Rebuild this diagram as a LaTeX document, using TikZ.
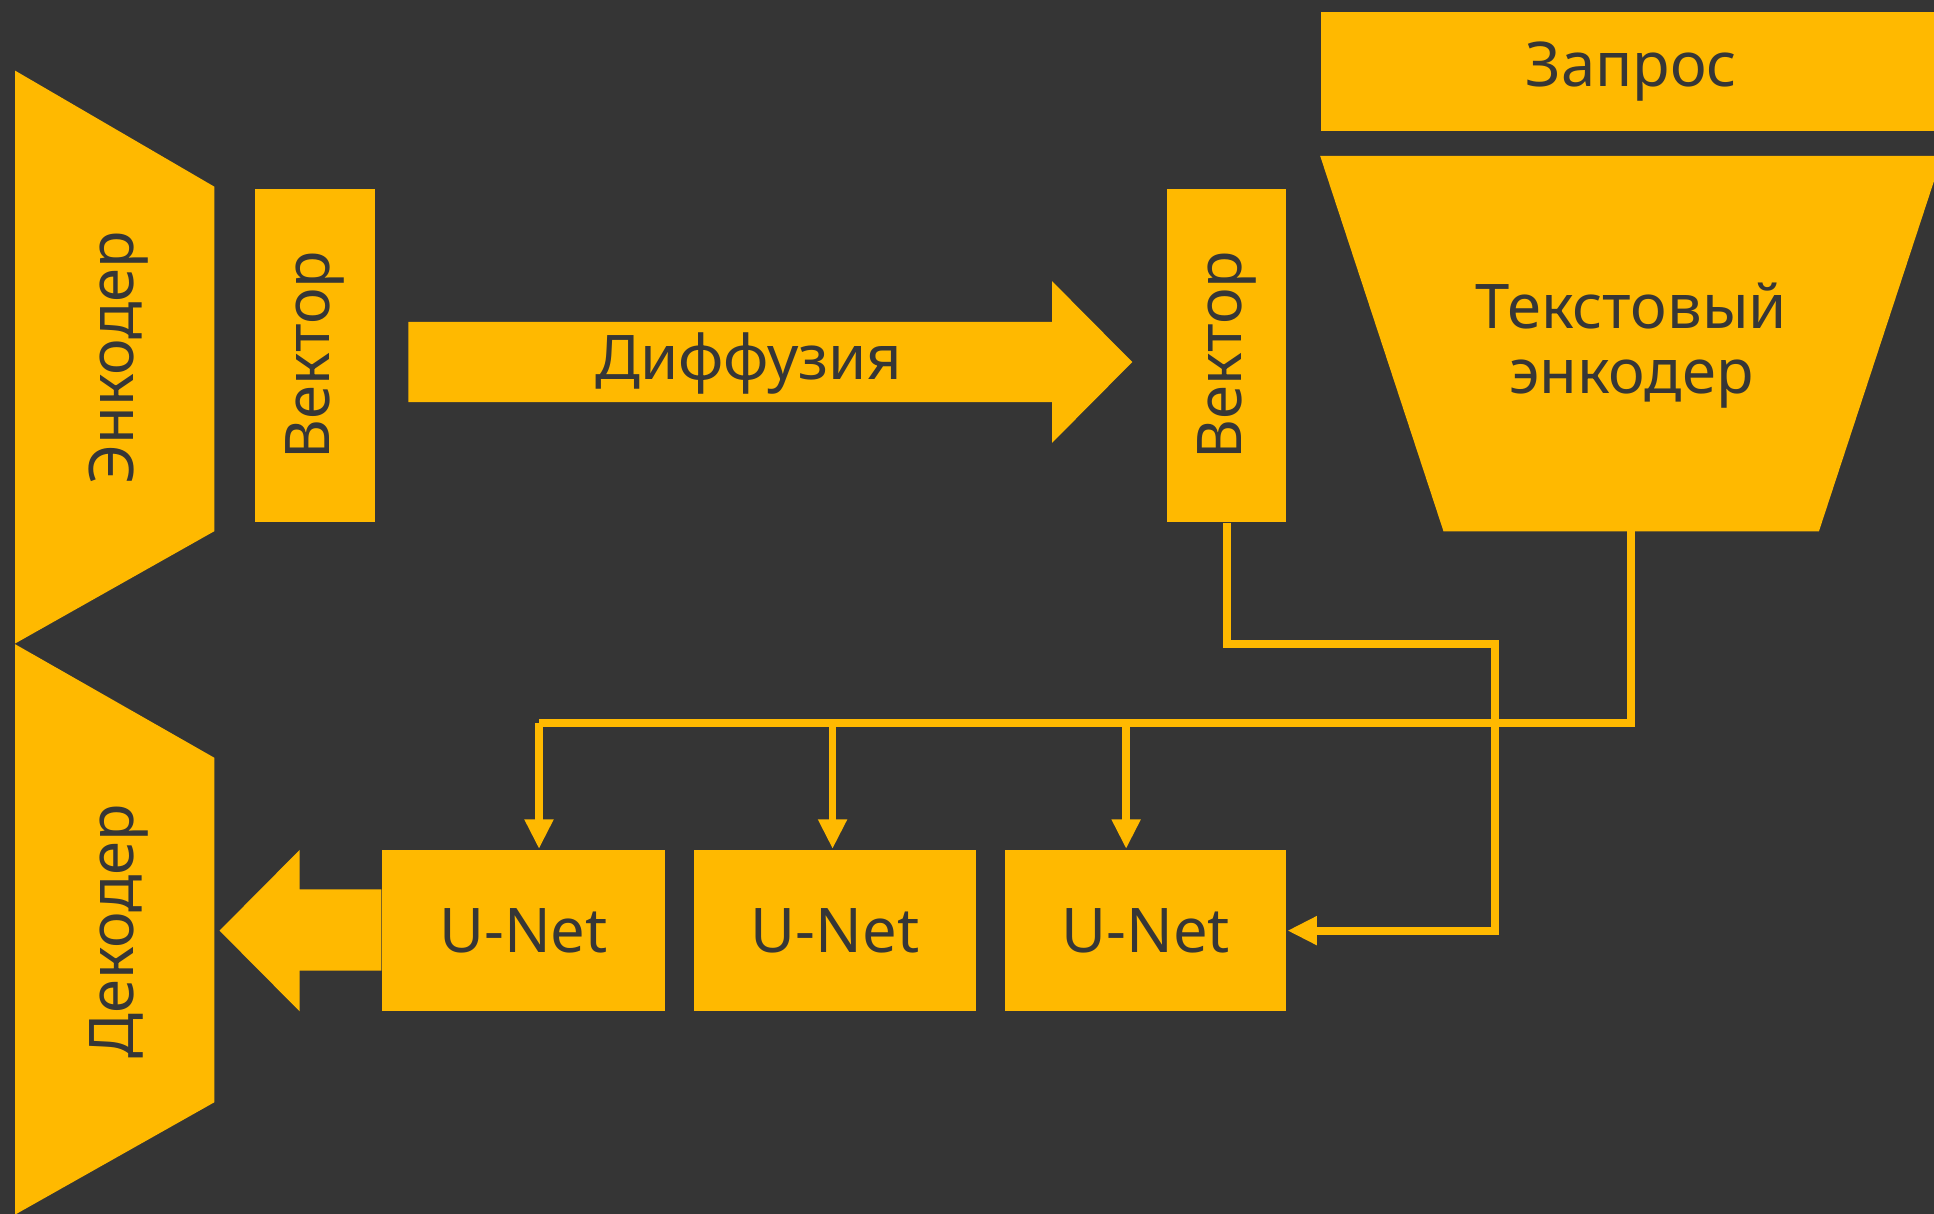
\documentclass[tikz,border=0pt]{standalone}
\usepackage{fontspec}
\usepackage{graphicx}
\setmainfont{Noto Sans}
\usetikzlibrary{calc,arrows.meta}
\definecolor{bg}{HTML}{353535}
\definecolor{gold}{HTML}{FFB900}
\definecolor{ink}{HTML}{363636}
\tikzset{
  block/.style={fill=gold, text=ink, inner sep=0pt, font=\fontsize{14.2}{17}\selectfont},
  ghost/.style={inner sep=0pt, text=ink, font=\fontsize{14.2}{17}\selectfont, align=center},
  wire/.style={draw=gold, line width=1.8pt},
  feed/.style={wire, -{Triangle[length=2.4mm,width=2.2mm]}},
}
\begin{document}
\begin{tikzpicture}
      \useasboundingbox (0,0) rectangle (15.68,-9.84);
      \fill[bg] (0,0) rectangle (15.68,-9.84);
      % encoder / decoder
      \node[ghost, minimum width=1.6cm, minimum height=4.63cm] (enc) at (0.93,-2.895) {};
      \fill[gold] (enc.north west) -- ($(enc.north east)+(0,-0.94)$) -- ($(enc.south east)+(0,0.91)$) -- (enc.south west) -- cycle;
      \node[ghost] at (0.96,-2.9) {\rotatebox{90}{Энкодер}};
      \node[ghost, minimum width=1.6cm, minimum height=4.61cm] (dec) at (0.93,-7.535) {};
      \fill[gold] (dec.north west) -- ($(dec.north east)+(0,-0.92)$) -- ($(dec.south east)+(0,0.91)$) -- (dec.south west) -- cycle;
      \node[ghost] at (0.96,-7.55) {\rotatebox{90}{Декодер}};
      % vectors
      \node[block, minimum width=0.97cm, minimum height=2.7cm] (vec1) at (2.555,-2.88) {\rotatebox{90}{Вектор}};
      \node[block, minimum width=0.97cm, minimum height=2.7cm] (vec2) at (9.945,-2.88) {\rotatebox{90}{Вектор}};
      % diffusion arrow
      \fill[gold] (3.31,-2.61) -- (8.53,-2.61) -- (8.53,-2.28) -- (9.18,-2.935) -- (8.53,-3.59) -- (8.53,-3.26) -- (3.31,-3.26) -- cycle;
      \node[ghost] (diff) at (6.07,-2.95) {Диффузия};
      % query and text encoder
      \node[block, minimum width=5.03cm, minimum height=0.96cm] (query) at (13.225,-0.58) {Запрос};
      \node[ghost, minimum width=3.03cm, minimum height=3.03cm] (tenc) at (13.225,-2.785) {};
      \fill[gold] ($(tenc.north west)+(-1,0)$) -- ($(tenc.north east)+(1,0)$) -- (tenc.south east) -- (tenc.south west) -- cycle;
      \node[ghost] at (13.225,-2.8) {Текстовый\\[-2pt]энкодер};
      % u-nets
      \node[block, minimum width=2.29cm, minimum height=1.31cm] (unet1) at (4.245,-7.545) {U-Net};
      \node[block, minimum width=2.28cm, minimum height=1.31cm] (unet2) at (6.77,-7.545) {U-Net};
      \node[block, minimum width=2.28cm, minimum height=1.31cm] (unet3) at (9.29,-7.545) {U-Net};
      \fill[gold] (unet1.west |- 0,-7.21) -- (2.43,-7.21) -- (2.43,-6.89) -- (1.78,-7.545) -- (2.43,-8.20) -- (2.43,-7.87) -- (unet1.west |- 0,-7.87) -- cycle;
      % connectors
      \coordinate (loop) at (12.12,-5.22);
      \coordinate (bus1) at (4.37,-5.86);
      \coordinate (bus2) at (6.75,-5.86);
      \coordinate (bus3) at (9.13,-5.86);
      \draw[feed] (vec2.south) |- (loop) |- (unet3.east);
      \draw[wire] (tenc.south) |- (bus1);
      \foreach \b/\u in {bus1/unet1,bus2/unet2,bus3/unet3}
        \draw[feed] (\b) -- (\b |- \u.north);
\end{tikzpicture}
\end{document}
